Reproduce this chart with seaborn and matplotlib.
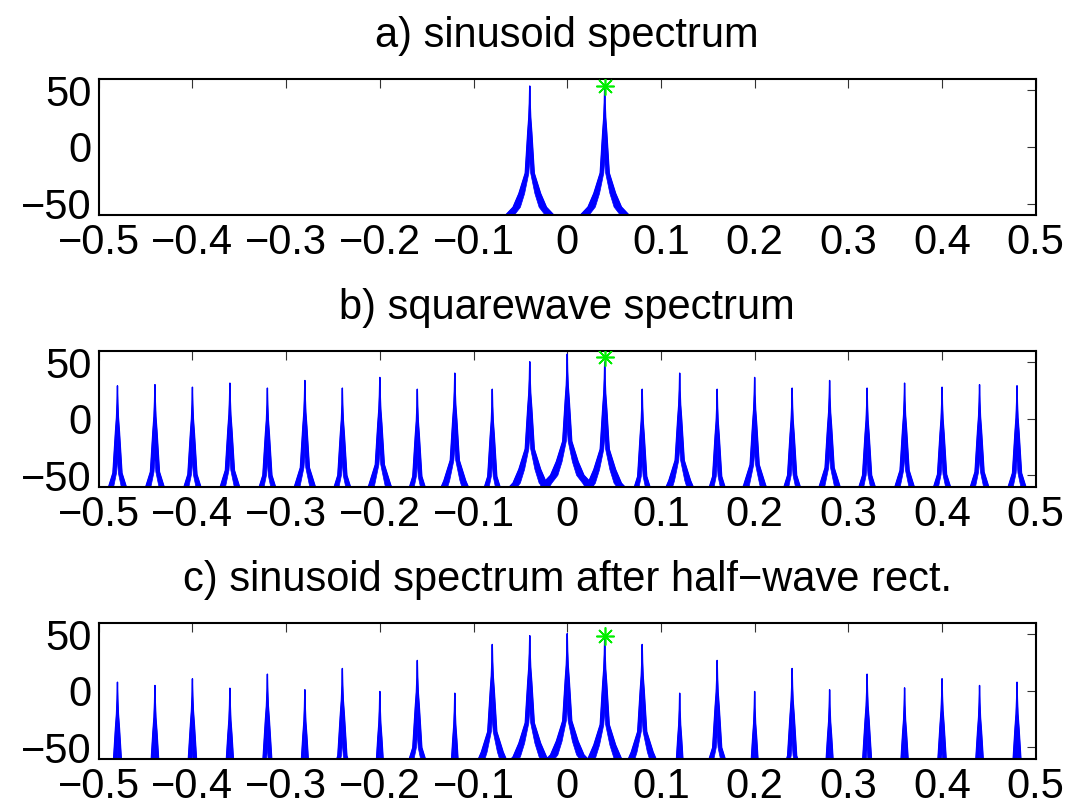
import numpy as np
import pandas as pd
import matplotlib
matplotlib.use("Agg")
import matplotlib.pyplot as plt
import seaborn as sns

# peak locations (normalised frequency) and peak heights in dB
sin_freqs = [-0.04, 0.04]
sin_db = [53.8, 54.0]

harm_freqs = [-0.48, -0.44, -0.40, -0.36, -0.32, -0.28, -0.24, -0.20, -0.16,
              -0.12, -0.08, -0.04, 0.0, 0.04, 0.08, 0.12, 0.16, 0.20, 0.24,
              0.28, 0.32, 0.36, 0.40, 0.44, 0.48]
square_db = [29.0, 30.0, 27.8, 31.4, 27.0, 33.7, 27.0, 36.4, 26.0, 40.2, 26.0,
             50.2, 57.0, 50.0, 26.0, 40.2, 26.0, 36.4, 27.0, 33.7, 27.0, 31.4,
             27.8, 30.0, 29.0]
rect_db = [7.5, 4.6, 10.5, 2.2, 14.6, 0.8, 19.6, -0.7, 26.7, -2.2, 40.8, 48.5,
           50.3, 47.0, 40.8, -2.2, 26.7, -0.7, 19.6, 0.8, 14.6, 2.5, 10.5, 4.6,
           7.5]

# the fundamental is marked with a green star
star_freq = 0.04
star_db = [54.0, 54.4, 47.9]

# shape of a single peak: distance from its centre vs. dB below its top
edge_offset = [0.0, 0.0004, 0.001, 0.0021, 0.0048, 0.0116, 0.0178, 0.0258, 0.036]
edge_drop = [0.0, 15.0, 28.0, 40.6, 77.0, 95.0, 107.0, 114.0, 125.0]
# inner edge of the dense side-lobe band on each flank
band_offset = [0.0, 0.0, 0.0010, 0.0055, 0.0100, 0.0165, 0.025]
band_drop = [50.0, 66.0, 77.0, 95.0, 107.0, 114.0, 125.0]

titles = ['a) sinusoid spectrum',
          'b) squarewave spectrum',
          'c) sinusoid spectrum after half\u2212wave rect.']

xticks = [-0.5, -0.4, -0.3, -0.2, -0.1, 0.0, 0.1, 0.2, 0.3, 0.4, 0.5]
xtick_labels = ['\u22120.5', '\u22120.4', '\u22120.3', '\u22120.2', '\u22120.1',
                '0', '0.1', '0.2', '0.3', '0.4', '0.5']
yticks = [-50, 0, 50]
ytick_labels = ['\u221250', '0', '50']


def draw_spectrum(ax, freqs, heights, title, star_height):
    '''
    draws one dB spectrum panel made of sharp peaks
    '''
    rows = []
    for i, (f, h) in enumerate(zip(freqs, heights)):
        xs = [f - o for o in edge_offset[::-1]] + [f + o for o in edge_offset[1:]]
        ys = [h - d for d in edge_drop[::-1]] + [h - d for d in edge_drop[1:]]
        rows += [{'peak': i, 'freq': x, 'db': y} for x, y in zip(xs, ys)]

        # dense side lobes look like filled bands on the flanks
        for side in (-1, 1):
            px = [f + side * o for o in edge_offset] + [f + side * o for o in band_offset[::-1]]
            py = [h - d for d in edge_drop] + [h - d for d in band_drop[::-1]]
            ax.fill(px, py, facecolor='blue', edgecolor='blue', lw=0.5)

    df = pd.DataFrame(rows)
    sns.lineplot(data=df, x='freq', y='db', units='peak', estimator=None,
                 sort=False, color='blue', lw=1.0, ax=ax, legend=False)

    ax.plot([star_freq], [star_height], linestyle='none', marker=(8, 2, 0),
            color='#00ee00', ms=13, mew=1.2, zorder=5)

    ax.set_xlim(-0.5, 0.5)
    ax.set_ylim(-60, 60)
    ax.set_xticks(xticks)
    ax.set_xticklabels(xtick_labels)
    ax.set_yticks(yticks)
    ax.set_yticklabels(ytick_labels)
    ax.set_xlabel('')
    ax.set_ylabel('')
    ax.tick_params(direction='in', length=6.5, width=0.8, color='#333333',
                   labelcolor='black', top=True, right=True, labelsize=30)
    ax.tick_params(axis='x', pad=6)
    ax.tick_params(axis='y', pad=5)
    for sp in ax.spines.values():
        sp.set_linewidth(1.5)
        sp.set_color('black')
        sp.set_visible(True)
    ax.set_title(title, fontsize=30, pad=23, color='black')


def main():
    sns.set_style('white')
    plt.rcParams['font.family'] = ['Liberation Sans', 'DejaVu Sans']
    plt.rcParams['text.color'] = 'black'

    fig = plt.figure(figsize=(10.73, 8.11), dpi=100)
    bottoms = [0.7349, 0.3999, 0.0645]
    panels = [(sin_freqs, sin_db), (harm_freqs, square_db), (harm_freqs, rect_db)]
    for k, (freqs, heights) in enumerate(panels):
        ax = fig.add_axes([0.092, bottoms[k], 0.8733, 0.1677])
        draw_spectrum(ax, freqs, heights, titles[k], star_db[k])

    fig.savefig('out.png', dpi=100)


if __name__ == "__main__":
    main()
